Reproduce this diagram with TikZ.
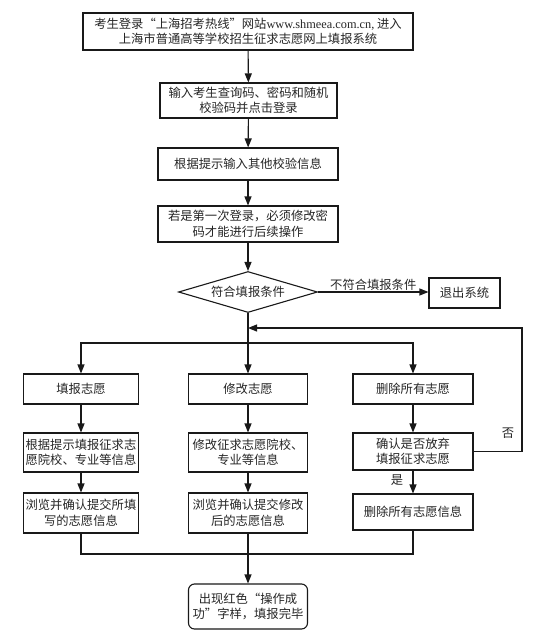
\documentclass[tikz,border=0pt]{standalone}
\usepackage{fontspec}
\setmainfont{Noto Sans CJK SC}
\newfontfamily\latserif{Liberation Serif}
\usetikzlibrary{shapes.geometric,arrows.meta}
\begin{document}
\begin{tikzpicture}[x=1pt,y=-1pt,
  font=\fontsize{12.3}{15.5}\selectfont,
  every node/.style={text=black!85},
  box/.style={draw=black!90,line width=1.1pt,align=center,inner sep=0pt},
  dia/.style={draw=black!90,line width=1.1pt,shape=diamond,aspect=3.39,inner sep=0pt,minimum width=139pt,minimum height=41pt},
  lnk/.style={draw=black!90,line width=1.1pt},
  arr/.style={lnk,-{Triangle[length=9pt,width=7pt]}},
  lbl/.style={inner sep=1pt}]
\useasboundingbox[fill=white] (0,0) rectangle (548,643);
% main column
\node[box,minimum width=330pt,minimum height=37pt] (b1) at (248,31.5) {考生登录“上海招考热线”网站{\latserif www.shmeea.com.cn,} 进入\\上海市普通高等学校招生征求志愿网上填报系统};
\node[box,minimum width=177pt,minimum height=35pt] (b2) at (248.5,100.5) {输入考生查询码、密码和随机\\校验码并点击登录};
\node[box,minimum width=180pt,minimum height=32pt] (b3) at (248,164) {根据提示输入其他校验信息};
\node[box,minimum width=180pt,minimum height=36pt] (b4) at (248,224) {若是第一次登录，必须修改密\\码才能进行后续操作};
\node[dia] (d) at (248,292) {符合填报条件};
\node[box,minimum width=71pt,minimum height=30pt] (ex) at (464.5,293) {退出系统};
% rows
\node[box,minimum width=115pt,minimum height=30pt] (L1) at (81,389) {填报志愿};
\node[box,minimum width=119pt,minimum height=30pt] (M1) at (248,389) {修改志愿};
\node[box,minimum width=120pt,minimum height=30pt] (R1) at (413,389) {删除所有志愿};
\node[box,minimum width=115pt,minimum height=39pt] (L2) at (81,452.5) {根据提示填报征求志\\愿院校、专业等信息};
\node[box,minimum width=119pt,minimum height=39pt] (M2) at (248,452.5) {修改征求志愿院校、\\专业等信息};
\node[box,minimum width=120pt,minimum height=37pt] (R2) at (413,451.5) {确认是否放弃\\填报征求志愿};
\node[box,minimum width=115pt,minimum height=40pt] (L3) at (81,513) {浏览并确认提交所填\\写的志愿信息};
\node[box,minimum width=119pt,minimum height=40pt] (M3) at (248,513) {浏览并确认提交修改\\后的志愿信息};
\node[box,minimum width=120pt,minimum height=36pt] (R3) at (413,512) {删除所有志愿信息};
\node[box,rounded corners=6pt,minimum width=119pt,minimum height=45pt] (fin) at (248,606.5) {出现红色“操作成\\功”字样，填报完毕};
% labels
\node[lbl] (no) at (508,433) {否};
\node[lbl] (yes) at (397,480) {是};
% coordinates
\coordinate (hub) at (248,328);
\coordinate (fbc) at (522,328);
\coordinate (br) at (248,343);
\coordinate (mrg) at (248,554);
% connectors
\draw[arr] (b1) -- (b2);
\draw[arr] (b2) -- (b3);
\draw[arr] (b3) -- (b4);
\draw[arr] (b4) -- (d);
\draw[arr] (d.east) -- node[lbl,above] {不符合填报条件} (d.east -| ex.west);
\draw[arr] (d.south) -- (M1.north);
\draw[arr] (br) -| (L1.north);
\draw[arr] (br) -| (R1.north);
\draw[arr] (L1) -- (L2);
\draw[arr] (M1) -- (M2);
\draw[arr] (R1) -- (R2);
\draw[arr] (L2) -- (L3);
\draw[arr] (M2) -- (M3);
\draw[arr] (R2) -- (R3);
\draw[arr] (R2.east) -- (R2.east -| fbc) -- (fbc) -- (hub);
\draw[lnk] (L3.south) |- (R3.south |- mrg) -- (R3.south);
\draw[arr] (M3.south) -- (fin.north);
\end{tikzpicture}
\end{document}
